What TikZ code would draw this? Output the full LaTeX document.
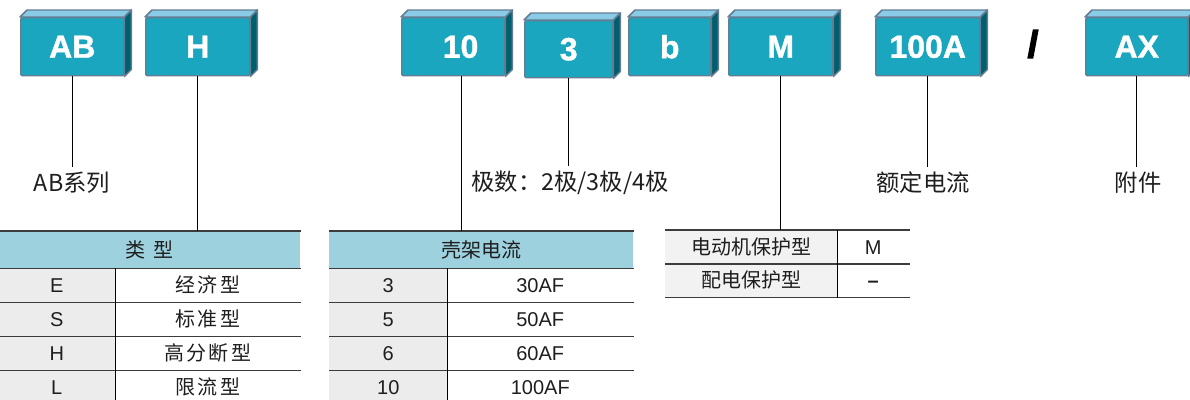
\documentclass[tikz,border=0pt]{standalone}
\usepackage{fontspec}
\setmainfont{Liberation Sans}
\newfontfamily\heavy[BoldFeatures = {FakeBold = 1.2}]{Liberation Sans}
\newfontfamily\heavier[BoldFeatures = {FakeBold = 4}]{Liberation Sans}
\newfontfamily\cjk{Noto Sans CJK SC}
\newfontfamily\cjkwide[LetterSpace=12]{Noto Sans CJK SC}
\usetikzlibrary{positioning}

\definecolor{blockfront}{HTML}{1AA6BE}
\definecolor{blocktop}{HTML}{8ACBE8}
\definecolor{blockside}{HTML}{005F6D}
\definecolor{blockedge}{HTML}{627C92}
\definecolor{headfill}{HTML}{9DD1DE}
\definecolor{keyfill}{HTML}{ECECEC}
\definecolor{motorfill}{HTML}{F2F2F2}
\definecolor{rulegray}{HTML}{3C3C3C}
\definecolor{textdark}{HTML}{1E1E1E}

\begin{document}
\begin{tikzpicture}[x = 0.75pt, y = -0.75pt,
	front/.style = {draw = blockedge, fill = blockfront, line width = 1.1pt, rounded corners = 1pt, inner sep = 0pt, anchor = north west, minimum height = 58*\px, text = white, font = \heavy\fontsize{24}{24}\selectfont\bfseries},
	topface/.style = {draw = blockedge, fill = blocktop, line width = 1.1pt, line join = round},
	sideface/.style = {draw = blockedge, fill = blockside, line width = 1.1pt, line join = round},
	leader/.style = {line width = 0.8pt, black},
	caption/.style = {font = \cjk\fontsize{17.5}{20}\selectfont, text = textdark, inner sep = 4pt},
	headcell/.style = {fill = headfill, anchor = north west, minimum height = 37*\px, inner sep = 0pt, text height = 12pt, text depth = 1pt, font = \cjk\fontsize{15}{18}\selectfont, text = textdark},
	keycell/.style = {fill = keyfill, anchor = north west, minimum height = 34*\px, inner sep = 0pt, text height = 12pt, text depth = 1pt, font = \fontsize{15}{18}\selectfont, text = textdark},
	valcell/.style = {anchor = north west, minimum height = 34*\px, inner sep = 0pt, text height = 12pt, text depth = 1pt, font = \fontsize{15}{18}\selectfont, text = textdark},
	rule/.style = {draw = rulegray, line width = 1.1pt},
	divider/.style = {draw = black, line width = 0.75pt}
]

	% Definitions

	\def\px{0.75pt}		% One pixel of the reference
	\def\d{7}			% Depth of a block

	\useasboundingbox (0, 0) rectangle (1190, 400);

	% Code blocks (front faces)

	\node [front, minimum width = 103*\px] (ab) at (20, 17) {AB};
	\node [front, minimum width = 104*\px] (h) at (145, 17) {H};
	\node [front, minimum width = 103*\px] (fr) at (401, 17) {\hspace{11pt}10};
	\node [front, minimum width = 88*\px, minimum height = 57*\px] (pole) at (524, 20) {3};
	\node [front, minimum width = 82*\px] (bb) at (628, 17) {b};
	\node [front, minimum width = 104*\px] (mm) at (728, 17) {M};
	\node [front, minimum width = 104*\px] (rated) at (875, 17) {100A};
	\node [front, minimum width = 102*\px] (acc) at (1085, 17) {AX};

	% Top and side faces

	\foreach \b in {ab, h, fr, pole, bb, mm, rated, acc}
	{
		\filldraw [topface] (\b.north west) -- ++(\d, -\d) -- ([shift = {(\d, -\d)}] \b.north east) -- (\b.north east) -- cycle;
		\filldraw [sideface] (\b.north east) -- ([shift = {(\d, -\d)}] \b.north east) -- ([shift = {(\d, -\d)}] \b.south east) -- (\b.south east) -- cycle;
	}

	% Separator

	\node [font = \heavier\fontsize{28}{28}\selectfont\bfseries] (slash) at (1033, 44) {/};

	% Captions

	\node [caption] (abl) at (72, 183) {AB系列};
	\node [caption] (polel) at (570, 183) {极数：2极/3极/4极};
	\node [caption] (ratedl) at (923, 183) {额定电流};
	\node [caption] (accl) at (1138, 183) {附件};

	% Type table

	\node [headcell, minimum width = 302*\px] (typehd) at (-2, 231) {\cjkwide 类\hspace{6pt}型};
	\foreach \k/\v [count = \i] in {E/经济型, S/标准型, H/高分断型, L/限流型}
	{
		\node [keycell, minimum width = 117*\px] (typek\i) at (-2, {234 + 34 * \i}) {\k};
		\node [valcell, minimum width = 185*\px] (typev\i) at (115, {234 + 34 * \i}) {\cjkwide \v};
	}
	\draw [rule] (typehd.north west) -- (typehd.north east);
	\draw [rule] (typehd.south west) -- (typehd.south east);
	\foreach \i in {1, ..., 4}
		\draw [rule] (typek\i.south west) -- (typev\i.south east);
	\draw [divider] (typek1.north east) -- (typek4.south east);

	% Frame table

	\node [headcell, minimum width = 304*\px] (shellhd) at (329, 231) {壳架电流};
	\foreach \k/\v [count = \i] in {3/30AF, 5/50AF, 6/60AF, 10/100AF}
	{
		\node [keycell, minimum width = 118*\px] (shellk\i) at (329, {234 + 34 * \i}) {\k};
		\node [valcell, minimum width = 186*\px] (shellv\i) at (447, {234 + 34 * \i}) {\v};
	}
	\draw [rule] (shellhd.north west) -- (shellhd.north east);
	\draw [rule] (shellhd.south west) -- (shellhd.south east);
	\foreach \i in {1, ..., 4}
		\draw [rule] (shellk\i.south west) -- (shellv\i.south east);
	\draw [divider] (shellk1.north east) -- (shellk4.south east);

	% Protection table

	\foreach \k/\v [count = \i] in {电动机保护型/M, 配电保护型/{\bfseries –}}
	{
		\node [keycell, fill = motorfill, minimum width = 172*\px, minimum height = 33.5*\px] (motork\i) at (665, {196.5 + 33.5 * \i}) {\cjk \k};
		\node [valcell, minimum width = 72*\px, minimum height = 33.5*\px] (motorv\i) at (837, {196.5 + 33.5 * \i}) {\v};
	}
	\draw [rule] (motork1.north west) -- (motorv1.north east);
	\foreach \i in {1, 2}
		\draw [rule] (motork\i.south west) -- (motorv\i.south east);
	\draw [divider] (motork1.north east) -- (motork2.south east);

	% Leaders

	\coordinate (frfoot) at ([xshift = 6pt] fr.south);
	\draw [leader] (ab) -- (ab |- abl.north);
	\draw [leader] (h) -- (h |- typehd.north);
	\draw [leader] (frfoot) -- (frfoot |- shellhd.north);
	\draw [leader] (pole) -- (pole |- polel.north);
	\draw [leader] (mm) -- (mm |- motork1.north);
	\draw [leader] (rated) -- (rated |- ratedl.north);
	\draw [leader] (acc) -- (acc |- accl.north);

\end{tikzpicture}
\end{document}
